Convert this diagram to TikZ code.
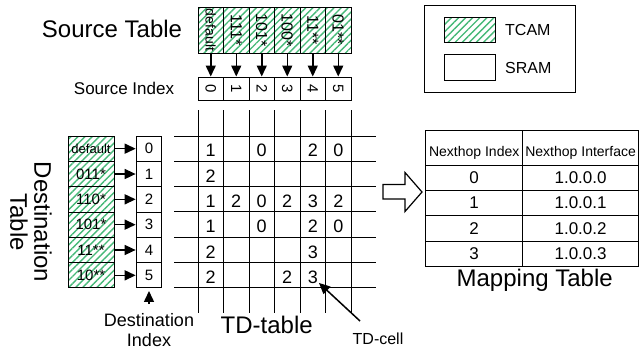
\documentclass[tikz,border=0pt]{standalone}
\usepackage{fontspec}
\setmainfont{Liberation Sans}
\usetikzlibrary{arrows.meta,patterns.meta}
\definecolor{tcamgreen}{RGB}{70,185,120}
\newcommand{\fsz}[1]{\fontsize{#1}{#1}\selectfont}
\begin{document}
\begin{tikzpicture}[x=1pt,y=-1pt,
  tcam/.style={draw=black,line width=1pt,pattern={Lines[angle=45,distance=5pt,line width=1.4pt]},pattern color=tcamgreen,inner sep=0pt},
  sram/.style={draw=black,line width=1pt,fill=white,inner sep=0pt},
  arr/.style={-{Triangle[length=11pt,width=10pt]},line width=1.5pt},
  gridline/.style={line width=1pt},
  box/.style={line width=1pt},
  lbl/.style={inner sep=0pt}]
\useasboundingbox (0,0) rectangle (639,349);
\fill[white] (0,0) rectangle (639,349);

% Source table
\node[lbl,font=\fsz{24}] (stitle) at (112,29) {Source Table};
\node[lbl,font=\fsz{17}] (sidx) at (124,88) {Source Index};
\foreach \lab/\sz [count=\i from 0] in {default/14,111*/16,101*/16,100*/16,11**/16,01**/16} {
  \node[tcam,minimum width=25.5pt,minimum height=46pt] (s\i) at ({210.75+25.5*\i},30) {\rotatebox{-90}{\fsz{\sz}\lab}};
  \node[sram,minimum width=25.5pt,minimum height=23pt] (si\i) at ({210.75+25.5*\i},88.5) {\rotatebox{-90}{\fsz{15}\i}};
  \draw[arr] (s\i) -- (si\i);
}

% Destination table
\node[lbl,font=\fsz{24},align=center,rotate=-90] (dtitle) at (31,222) {\fontsize{24}{28}\selectfont Destination\\Table};
\foreach \lab/\sz [count=\j from 0] in {default/13,011*/15,110*/15,101*/15,11**/15,10**/15} {
  \node[tcam,minimum width=46pt,minimum height=25.33pt] (d\j) at (91,{148.67+25.33*\j}) {\fsz{\sz}\lab};
  \node[sram,minimum width=25.7pt,minimum height=25.33pt] (di\j) at (149,{148.67+25.33*\j}) {\fsz{15}\j};
  \draw[arr] (d\j) -- (di\j);
}
\coordinate (ditail) at (149,304);
\draw[arr] (ditail) -- ([yshift=-2.5pt]di5.south);
\node[lbl,font=\fontsize{18}{20}\selectfont,align=center] (didx) at (149,330) {Destination\\Index};

% TD-table grid
\foreach \i in {0,...,6} {
  \draw[gridline] ({198+25.5*\i},110) -- ({198+25.5*\i},313);
  \draw[gridline] (174,{136+25.33*\i}) -- (376,{136+25.33*\i});
}
\foreach \i/\j/\v in {0/0/1,2/0/0,4/0/2,5/0/0,
                      0/1/2,
                      0/2/1,1/2/2,2/2/0,3/2/2,4/2/3,5/2/2,
                      0/3/1,2/3/0,4/3/2,5/3/0,
                      0/4/2,4/4/3,
                      0/5/2,3/5/2,4/5/3} {
  \node[lbl,font=\fsz{18}] (c\i\j) at ({210.75+25.5*\i},{150.7+25.33*\j}) {\v};
}
\node[lbl,font=\fsz{24}] (tdt) at (266.7,325) {TD-table};
\node[lbl,font=\fsz{16}] (tdc) at (378,339) {TD-cell};
\coordinate (tdctail) at (360,321);
\draw[arr] (tdctail) -- ([xshift=1pt,yshift=1pt]c45.south east);

% Hollow arrow
\draw[line width=1.2pt,fill=white] (383,184.5) -- (405,184.5) -- (405,172.5) -- (422,192) -- (405,211.5) -- (405,199) -- (383,199) -- cycle;

% Legend
\draw[box] (424.3,5) rectangle (575.3,92.7);
\node[tcam,minimum width=51pt,minimum height=25.4pt] (lt) at (469.8,30) {};
\node[sram,minimum width=51pt,minimum height=25.7pt] (ls) at (469.8,67.8) {};
\node[lbl,font=\fsz{16},anchor=west] (ltt) at (505,30) {TCAM};
\node[lbl,font=\fsz{16},anchor=west] (lst) at (505,68) {SRAM};

% Mapping table
\draw[box] (425.7,130) rectangle (638.5,266.3);
\draw[box] (522.7,130) -- (522.7,266.3);
\foreach \y in {165,190.3,215.6,241} { \draw[box] (425.7,\y) -- (638.5,\y); }
\node[lbl,font=\fsz{14}] (mh1) at (474.2,153) {Nexthop Index};
\node[lbl,font=\fsz{14}] (mh2) at (580.6,153) {Nexthop Interface};
\foreach \n [count=\k from 0] in {1.0.0.0,1.0.0.1,1.0.0.2,1.0.0.3} {
  \node[lbl,font=\fsz{17}] (mi\k) at (474.2,{177.6+25.33*\k}) {\k};
  \node[lbl,font=\fsz{17}] (mf\k) at (580.6,{177.6+25.33*\k}) {\n};
}
\node[lbl,font=\fsz{24}] (mtitle) at (534.7,280) {Mapping Table};
\end{tikzpicture}
\end{document}
